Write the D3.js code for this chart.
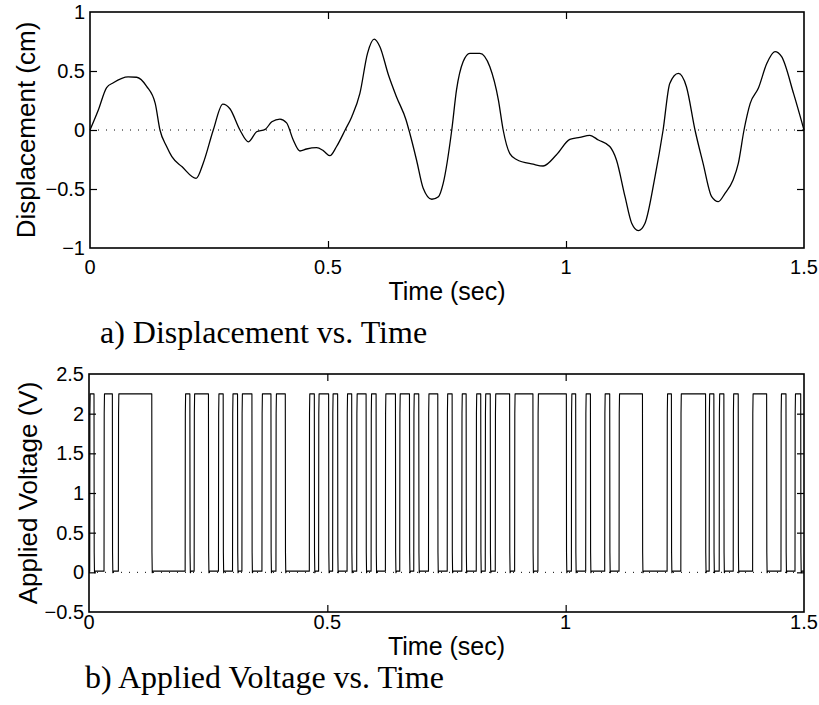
<!DOCTYPE html>
<html><head><meta charset="utf-8">
<script src="https://cdn.jsdelivr.net/npm/d3@7"></script>
<style>body{margin:0;background:#fff}svg{display:block}</style>
</head><body>
<script>
// ---- Data ----
// Displacement trace: time (s) and displacement (cm)
const dispTime = [0,0.0175,0.035,0.049,0.080,0.098,0.119,0.137,0.147,0.161,0.172,0.193,0.223,0.238,0.259,0.279,0.294,0.315,0.333,0.350,0.368,0.382,0.399,0.413,0.427,0.441,0.455,0.476,0.490,0.504,0.518,0.536,0.550,0.567,0.583,0.597,0.609,0.627,0.644,0.664,0.672,0.686,0.700,0.718,0.732,0.742,0.760,0.770,0.784,0.798,0.819,0.840,0.858,0.868,0.882,0.896,0.931,0.952,0.980,1.008,1.029,1.050,1.068,1.092,1.106,1.124,1.138,1.152,1.166,1.187,1.204,1.218,1.236,1.253,1.271,1.288,1.306,1.320,1.334,1.351,1.362,1.374,1.387,1.404,1.422,1.439,1.453,1.478,1.500];
const dispValue = [0,0.17,0.36,0.40,0.45,0.447,0.37,0.226,0,-0.14,-0.226,-0.31,-0.41,-0.28,0,0.22,0.18,0,-0.10,-0.015,0.005,0.07,0.093,0.06,-0.085,-0.178,-0.161,-0.15,-0.175,-0.218,-0.14,0,0.113,0.31,0.65,0.77,0.706,0.466,0.28,0.085,-0.03,-0.254,-0.494,-0.587,-0.565,-0.452,0,0.34,0.58,0.65,0.65,0.536,0.254,0,-0.20,-0.25,-0.29,-0.305,-0.21,-0.08,-0.062,-0.045,-0.085,-0.14,-0.254,-0.565,-0.79,-0.853,-0.79,-0.395,0,0.395,0.48,0.367,0,-0.283,-0.565,-0.607,-0.537,-0.424,-0.283,0,0.226,0.353,0.565,0.664,0.621,0.31,0];
// Applied voltage: on (rise) and off (fall) times of each 2.25 V pulse
const pulseOn  = [0.0015,0.0315,0.0616,0.2017,0.2206,0.2716,0.3011,0.3208,0.3628,0.3922,0.4622,0.4817,0.5111,0.5414,0.5616,0.5918,0.6218,0.6519,0.6813,0.7122,0.7515,0.7821,0.8124,0.8313,0.8523,0.8929,0.9418,1.0120,1.0420,1.0819,1.1120,1.2128,1.2416,1.3011,1.3221,1.3515,1.3922,1.4517,1.4811];
const pulseOff = [0.0105,0.0490,0.1317,0.2116,0.2506,0.2815,0.3116,0.3418,0.3817,0.4118,0.4727,0.5027,0.5216,0.5511,0.5813,0.6023,0.6429,0.6723,0.6918,0.7317,0.7618,0.7912,0.8218,0.8418,0.8824,0.9313,1.0014,1.0210,1.0519,1.0924,1.1611,1.2218,1.2935,1.3109,1.3319,1.3620,1.4216,1.4622,1.4931];
const highLevel = 2.25, lowLevel = 0.015;
const xTicks = [0,0.5,1,1.5];
const dispTicks = [-1,-0.5,0,0.5,1];
const voltTicks = [-0.5,0,0.5,1,1.5,2,2.5];
const fmt = v => (v<0?"\u2212":"") + String(Math.abs(v));

// ---- Layout ----
const W=819,H=705;
const svg=d3.select("body").append("svg").attr("width",W).attr("height",H);
const sans="'Liberation Sans', Arial, Helvetica, sans-serif";
const serif="'Liberation Serif', 'Times New Roman', serif";

function panel(opt){
  const x=d3.scaleLinear().domain([0,1.5]).range([opt.left,opt.right]);
  const y=d3.scaleLinear().domain(opt.ydom).range([opt.bottom,opt.top]);
  const g=svg.append("g");
  g.append("line").attr("x1",x(0)).attr("x2",x(1.5)).attr("y1",y(0)).attr("y2",y(0))
    .attr("stroke","#000").attr("stroke-width",1).attr("stroke-dasharray","1,7");
  g.append("path").datum(opt.data).attr("fill","none").attr("stroke","#000")
    .attr("stroke-width",opt.lw).attr("stroke-linejoin","round")
    .attr("d",d3.line().x(d=>x(d[0])).y(d=>y(d[1])).curve(opt.curve));
  const tl=7;
  const inner = opt.yticks.filter(v=>v!==opt.ydom[0]&&v!==opt.ydom[1]);
  const innerX = xTicks.filter(v=>v!==0&&v!==1.5);
  g.append("g").attr("transform",`translate(0,${opt.bottom})`)
    .call(d3.axisBottom(x).tickValues(innerX).tickSize(-tl).tickFormat(""))
    .call(s=>s.select(".domain").remove());
  g.append("g").attr("transform",`translate(0,${opt.top})`)
    .call(d3.axisTop(x).tickValues(innerX).tickSize(-tl).tickFormat(""))
    .call(s=>s.select(".domain").remove());
  g.append("g").attr("transform",`translate(${opt.left},0)`)
    .call(d3.axisLeft(y).tickValues(inner).tickSize(-tl).tickFormat(""))
    .call(s=>s.select(".domain").remove());
  g.append("g").attr("transform",`translate(${opt.right},0)`)
    .call(d3.axisRight(y).tickValues(inner).tickSize(-tl).tickFormat(""))
    .call(s=>s.select(".domain").remove());
  g.selectAll(".tick line").attr("stroke","#000").attr("stroke-width",1.2);
  g.append("rect").attr("x",opt.left).attr("y",opt.top)
    .attr("width",opt.right-opt.left).attr("height",opt.bottom-opt.top)
    .attr("fill","none").attr("stroke","#000").attr("stroke-width",1.6);
  g.selectAll(".ylab").data(opt.yticks).join("text")
    .attr("x",opt.left-5).attr("y",d=>y(d)+7).attr("text-anchor","end")
    .attr("font-family",sans).attr("font-size",20).text(fmt);
  g.selectAll(".xlab").data(xTicks).join("text")
    .attr("x",d=>x(d)).attr("y",opt.bottom+opt.xlabDy).attr("text-anchor","middle")
    .attr("font-family",sans).attr("font-size",20).text(fmt);
  g.append("text").attr("x",(opt.left+opt.right)/2).attr("y",opt.xtitleY)
    .attr("text-anchor","middle").attr("font-family",sans).attr("font-size",25).text("Time (sec)");
  g.append("text").attr("transform",`translate(${opt.ytitleX},${(opt.top+opt.bottom)/2}) rotate(-90)`)
    .attr("text-anchor","middle").attr("font-family",sans).attr("font-size",26).text(opt.ytitle);
  g.append("text").attr("x",opt.capX).attr("y",opt.capY)
    .attr("font-family",serif).attr("font-size",32).text(opt.caption);
}

const dispData = dispTime.map((t,i)=>[t,dispValue[i]]);
panel({left:90,right:804,top:12,bottom:248,ydom:[-1,1],yticks:dispTicks,data:dispData,
  curve:d3.curveMonotoneX,lw:1.3,xlabDy:26,xtitleY:300,ytitle:"Displacement (cm)",ytitleX:35,
  caption:"a) Displacement vs. Time",capX:100,capY:343});

const voltData=[[0,lowLevel]];
pulseOn.forEach((on,i)=>{
  const off=pulseOff[i];
  voltData.push([on,lowLevel],[on+0.0004,highLevel-0.25],[on+0.001,highLevel],
                [off,highLevel],[off+0.0004,0.25],[off+0.001,-0.005],[off+0.0025,lowLevel]);
});
voltData.push([1.5,lowLevel]);
panel({left:89,right:804,top:374,bottom:612,ydom:[-0.5,2.5],yticks:voltTicks,data:voltData,
  curve:d3.curveLinear,lw:1.1,xlabDy:17,xtitleY:655,ytitle:"Applied Voltage (V)",ytitleX:37,
  caption:"b) Applied Voltage vs. Time",capX:85,capY:688});
</script>
</body></html>
